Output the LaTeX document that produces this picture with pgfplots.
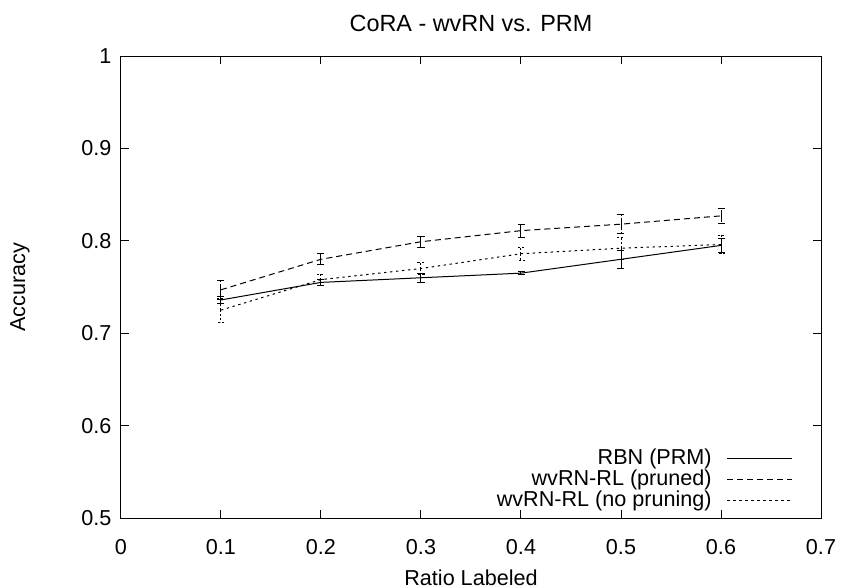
\documentclass[border=0pt]{standalone}
\usepackage{fontspec}
\setmainfont{Liberation Sans}
\usepackage{pgfplots}
\pgfplotsset{compat=1.18}
\begin{document}
\fontsize{10.8pt}{13pt}\selectfont
\begin{tikzpicture}[x=1pt,y=1pt]
\useasboundingbox (-60.5,-33.5) rectangle (360.5,259);
\begin{axis}[
  at={(0,0)}, anchor=south west,
  scale only axis, width=350pt, height=231pt,
  xmin=0, xmax=0.7, ymin=0.5, ymax=1,
  xtick={0,0.1,...,0.7}, ytick={0.5,0.6,...,1.0},
  xticklabels={0,0.1,0.2,0.3,0.4,0.5,0.6,0.7},
  yticklabels={0.5,0.6,0.7,0.8,0.9,1},
  /pgf/number format/assume math mode=true,
  tick style={black, line width=0.5pt},
  axis line style={line width=0.5pt},
  major tick length=4pt,
  tick align=inside,
  every tick label/.append style={font=\fontsize{10.8pt}{13pt}\selectfont},
  xticklabel style={yshift=-7pt},
  yticklabel style={xshift=-1pt},
  title={CoRA - wvRN vs. PRM},
  title style={at={(axis description cs:0.5,1)}, anchor=center, yshift=10.5pt, font=\fontsize{11.7pt}{14pt}\selectfont},
  xlabel={Ratio Labeled},
  ylabel={Accuracy},
  every axis x label/.style={at={(axis description cs:0.5,0)}, anchor=center, yshift=-30pt, font=\fontsize{10.8pt}{13pt}\selectfont},
  every axis y label/.style={at={(axis description cs:0,0.5)}, anchor=center, xshift=-50.5pt, rotate=90, font=\fontsize{10.8pt}{13pt}\selectfont},
  legend plot pos=right,
  legend cell align=right,
  legend style={draw=none, fill=none, at={(axis description cs:0.963,0.011)}, anchor=south east,
    font=\fontsize{10.8pt}{13pt}\selectfont, row sep=0.5pt, column sep=7.5pt, inner sep=1pt,
    nodes={inner sep=0pt, text height=8pt, text depth=2pt}},
  legend image code/.code={\draw[#1] (0pt,0pt) -- (32.5pt,0pt);},
]
\addplot[black, line width=0.5pt, mark=none,
  error bars/.cd, y dir=both, y explicit, error mark=-, error mark options={mark size=1.75pt, rotate=90, line width=0.5pt}, error bar style={line width=0.5pt}]
coordinates {
(0.1,0.736) +- (0,0.004)
(0.2,0.755) +- (0,0.003)
(0.3,0.760) +- (0,0.005)
(0.4,0.765) +- (0,0.002)
(0.5,0.780) +- (0,0.010)
(0.6,0.795) +- (0,0.008)
};
\addlegendentry{RBN (PRM)}
\addplot[black, line width=0.5pt, dash pattern=on 3pt off 2pt, mark=none,
  error bars/.cd, y dir=both, y explicit, error mark=-, error mark options={mark size=1.75pt, rotate=90, solid, line width=0.5pt}, error bar style={line width=0.5pt, dash pattern=on 3pt off 1pt}]
coordinates {
(0.1,0.747) +- (0,0.010)
(0.2,0.780) +- (0,0.006)
(0.3,0.799) +- (0,0.006)
(0.4,0.811) +- (0,0.007)
(0.5,0.818) +- (0,0.010)
(0.6,0.827) +- (0,0.008)
};
\addlegendentry{wvRN-RL (pruned)}
\addplot[black, line width=0.5pt, dash pattern=on 1.2pt off 1.8pt, mark=none,
  error bars/.cd, y dir=both, y explicit, error mark=-, error mark options={mark size=1.75pt, rotate=90, dash pattern=on 1pt off 1pt, line width=0.5pt}, error bar style={line width=0.5pt, dash pattern=on 1pt off 1pt}]
coordinates {
(0.1,0.725) +- (0,0.013)
(0.2,0.758) +- (0,0.006)
(0.3,0.770) +- (0,0.007)
(0.4,0.786) +- (0,0.007)
(0.5,0.792) +- (0,0.012)
(0.6,0.796) +- (0,0.010)
};
\addlegendentry{wvRN-RL (no pruning)}
\end{axis}
\end{tikzpicture}
\end{document}
